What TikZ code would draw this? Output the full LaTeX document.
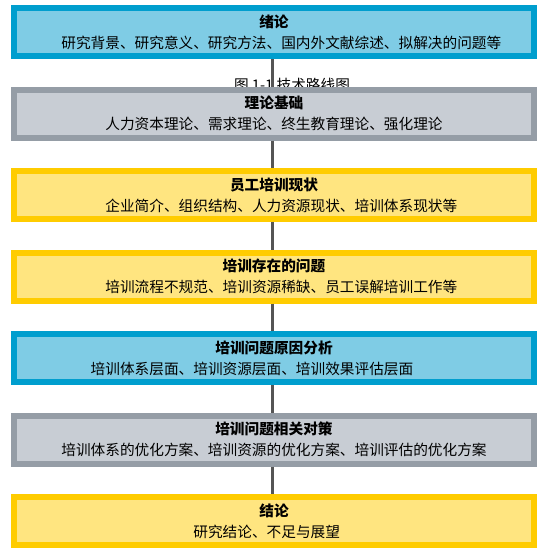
\documentclass[tikz,border=0pt]{standalone}
\usepackage{fontspec}
\setmainfont{Noto Sans CJK SC}
\usetikzlibrary{positioning}
\definecolor{blueline}{RGB}{0,158,206}
\definecolor{bluefill}{RGB}{127,204,229}
\definecolor{grayline}{RGB}{149,157,166}
\definecolor{grayfill}{RGB}{200,205,212}
\definecolor{yellowline}{RGB}{255,204,0}
\definecolor{yellowfill}{RGB}{255,229,128}
\definecolor{linkgray}{RGB}{85,85,85}
\begin{document}
\begin{tikzpicture}[
  stage/.style={draw, line width=4.5pt, minimum width=390pt, minimum height=36pt,
    inner sep=0pt, align=center, font=\fontsize{11pt}{15.75pt}\selectfont},
  bluestage/.style={stage, draw=blueline, fill=bluefill},
  graystage/.style={stage, draw=grayline, fill=grayfill},
  yellowstage/.style={stage, draw=yellowline, fill=yellowfill},
  link/.style={line width=2.25pt, color=linkgray},
  node distance=20.625pt
]
    \newcommand{\stageText}[2]{{\bfseries #1}\\#2}
  \useasboundingbox (0,0) rectangle (408.75pt,-415.5pt);

  \node[anchor=base, font=\fontsize{11pt}{13pt}\selectfont] (caption) at (219pt,-67.5pt) {图 1-1 技术路线图};

  \node[bluestage, anchor=north] (intro) at (205.5pt,-3.75pt)
    {\stageText{绪论}{\hspace*{1em}研究背景、研究意义、研究方法、国内外文献综述、拟解决的问题等}};
  \node[graystage, below=of intro] (theory)
    {\stageText{理论基础}{人力资本理论、需求理论、终生教育理论、强化理论}};
  \node[yellowstage, below=of theory] (status)
    {\stageText{员工培训现状}{\hspace*{1em}企业简介、组织结构、人力资源现状、培训体系现状等}};
  \node[yellowstage, below=of status] (problem)
    {\stageText{培训存在的问题}{\hspace*{1em}培训流程不规范、培训资源稀缺、员工误解培训工作等}};
  \node[bluestage, below=of problem] (cause)
    {\stageText{培训问题原因分析}{培训体系层面、培训资源层面、培训效果评估层面\hspace*{3em}}};
  \node[graystage, below=of cause] (measure)
    {\stageText{培训问题相关对策}{培训体系的优化方案、培训资源的优化方案、培训评估的优化方案}};
  \node[yellowstage, below=of measure] (summary)
    {\stageText{结论}{研究结论、不足与展望\hspace*{1em}}};

\foreach \a/\b in {intro/theory,theory/status,status/problem,problem/cause,cause/measure,measure/summary}
  \draw[link] ([xshift=-1.1pt]\a.south) -- ([xshift=-1.1pt]\b.north);

\end{tikzpicture}
\end{document}
